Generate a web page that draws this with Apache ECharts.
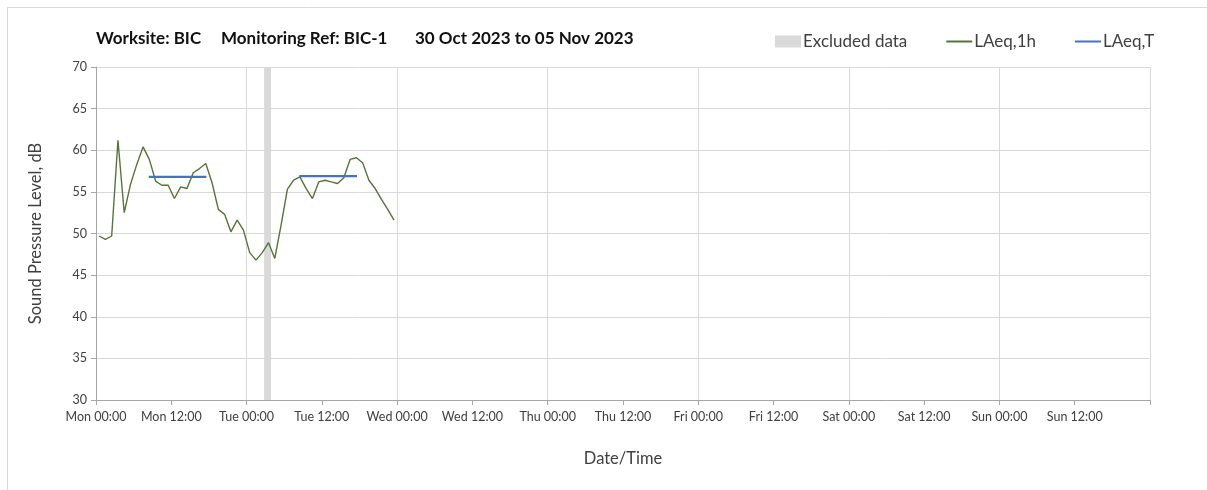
<!DOCTYPE html>
<html>
<head>
<meta charset="utf-8">
<script src="https://cdn.jsdelivr.net/npm/echarts@6/dist/echarts.min.js"></script>
<style>
html,body{margin:0;padding:0;background:#fff;}
#chart{width:1207px;height:490px;}
</style>
</head>
<body>
<div id="chart"></div>
<script>
// ---- data ----
const titleParts = ['Worksite: BIC', 'Monitoring Ref: BIC-1', '30 Oct 2023 to 05 Nov 2023'];
const xTickLabels = ['Mon 00:00','Mon 12:00','Tue 00:00','Tue 12:00','Wed 00:00','Wed 12:00','Thu 00:00','Thu 12:00','Fri 00:00','Fri 12:00','Sat 00:00','Sat 12:00','Sun 00:00','Sun 12:00'];
const yTicks = [30, 35, 40, 45, 50, 55, 60, 65, 70];
// hourly LAeq,1h values, plotted at mid-hour (hours since Mon 00:00)
const firstHourMid = 0.5;
const laeq1h = [49.7,49.3,49.7,61.2,52.5,55.9,58.3,60.4,58.9,56.3,
                55.8,55.8,54.2,55.6,55.4,57.3,57.8,58.4,56.1,52.9,
                52.3,50.2,51.6,50.4,47.7,46.8,47.7,48.9,47.0,51.0,
                55.3,56.4,56.8,55.4,54.2,56.2,56.4,56.2,56.0,56.7,
                58.9,59.1,58.5,56.4,55.4,54.1,52.9,51.6];
// LAeq,T periods (hours since Mon 00:00)
const laeqTStart = [8.4, 32.4];
const laeqTEnd   = [17.6, 41.6];
const laeqTValue = [56.8, 56.9];
// excluded data period (hours)
const excludedStart = [26.8];
const excludedEnd   = [27.9];

// ---- build series data ----
const lineData = laeq1h.map((v, i) => [firstHourMid + i, v]);
const tData = [];
laeqTValue.forEach((v, i) => {
  if (i > 0) tData.push([laeqTStart[i] - 1, '-']);
  tData.push([laeqTStart[i], v]);
  tData.push([laeqTEnd[i], v]);
});
const excludedAreas = excludedStart.map((s, i) => [{xAxis: s}, {xAxis: excludedEnd[i]}]);

const FONT = 'Lato';
const TXT = '#404040';
const titleFont = 'bold 17px Lato';

const chart = echarts.init(document.getElementById('chart'), null, {renderer: 'canvas'});
chart.setOption({
  animation: false,
  backgroundColor: '#fff',
  textStyle: {fontFamily: FONT},
  graphic: [
    {type: 'rect', left: 5, top: 5, shape: {width: 1220, height: 500}, style: {fill: 'none', stroke: '#d9d9d9', lineWidth: 1}, z: -1},
    {type: 'text', x: 96, y: 39, style: {text: titleParts[0], font: titleFont, fill: '#111', verticalAlign: 'middle'}},
    {type: 'text', x: 221, y: 39, style: {text: titleParts[1], font: titleFont, fill: '#111', verticalAlign: 'middle'}},
    {type: 'text', x: 415, y: 39, style: {text: titleParts[2], font: titleFont, fill: '#111', verticalAlign: 'middle'}}
  ],
  legend: {
    left: 775, top: 33, padding: 0,
    itemWidth: 26, itemHeight: 12, itemGap: 38,
    textStyle: {fontFamily: FONT, fontSize: 17, color: TXT, padding: [0,0,0,-3]},
    data: [
      {name: 'Excluded data', icon: 'rect', itemStyle: {color: '#d9d9d9'}},
      {name: 'LAeq,1h', itemStyle: {opacity: 0}},
      {name: 'LAeq,T', itemStyle: {opacity: 0}}
    ]
  },
  grid: {left: 96, right: 57, top: 67, bottom: 90},
  xAxis: [{
    type: 'value', min: 0, max: 168, interval: 12,
    name: 'Date/Time', nameLocation: 'middle', nameGap: 50,
    nameTextStyle: {fontFamily: FONT, fontSize: 16.5, color: TXT},
    axisLine: {show: true, lineStyle: {color: '#a6a6a6', width: 1}},
    axisTick: {show: true, length: 5, lineStyle: {color: '#a6a6a6'}},
    axisLabel: {fontFamily: FONT, fontSize: 12.5, color: TXT, margin: 10,
      formatter: v => xTickLabels[Math.round(v / 12)] || '', showMaxLabel: true},
    splitLine: {show: false}
  }, {
    type: 'value', min: 0, max: 168, interval: 24, gridIndex: 0, position: 'bottom',
    axisLine: {show: false}, axisTick: {show: false}, axisLabel: {show: false},
    splitLine: {show: true, lineStyle: {color: '#d9d9d9', width: 1}}
  }],
  yAxis: {
    type: 'value', min: yTicks[0], max: yTicks[yTicks.length - 1], interval: 5,
    name: 'Sound Pressure Level, dB', nameLocation: 'middle', nameGap: 52,
    nameTextStyle: {fontFamily: FONT, fontSize: 16.5, color: TXT},
    axisLine: {show: true, lineStyle: {color: '#a6a6a6', width: 1}},
    axisTick: {show: true, length: 5, lineStyle: {color: '#a6a6a6'}},
    axisLabel: {fontFamily: FONT, fontSize: 12.5, color: TXT, margin: 9},
    splitLine: {show: true, lineStyle: {color: '#d9d9d9', width: 1}}
  },
  series: [
    {
      name: 'Excluded data', type: 'line', data: [], color: '#d9d9d9',
      markArea: {silent: true, itemStyle: {color: '#d9d9d9'}, data: excludedAreas},
      z: 1
    },
    {
      name: 'LAeq,1h', type: 'line', data: lineData, symbol: 'none', color: '#55743a',
      lineStyle: {color: '#55743a', width: 1.4}, z: 3
    },
    {
      name: 'LAeq,T', type: 'line', data: tData, symbol: 'none', color: '#4472c4',
      connectNulls: false,
      lineStyle: {color: '#4472c4', width: 2.2}, z: 4
    }
  ]
});
</script>
</body>
</html>
